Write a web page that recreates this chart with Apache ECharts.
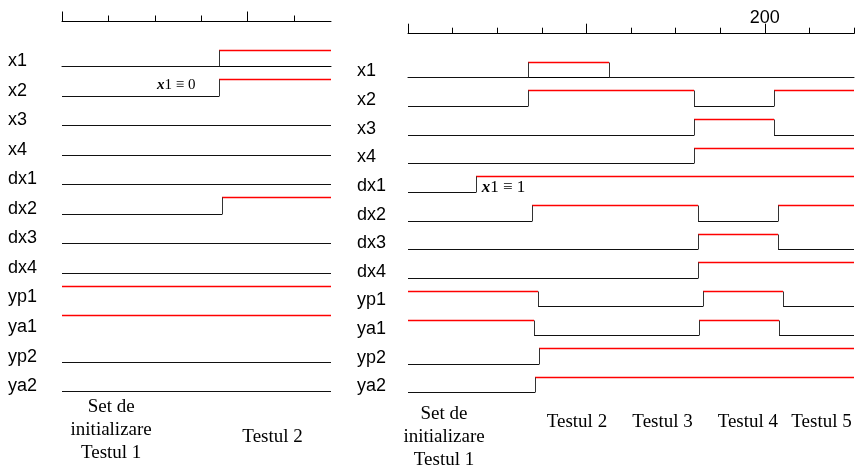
<!DOCTYPE html>
<html><head><meta charset="utf-8">
<script src="https://cdn.jsdelivr.net/npm/echarts@6/dist/echarts.min.js"></script>
<style>html,body{margin:0;padding:0;background:#fff}#c{width:858px;height:468px}</style>
</head><body><div id="c"></div>
<script>
// ---- data ----
const signalNames = ['x1','x2','x3','x4','dx1','dx2','dx3','dx4','yp1','ya1','yp2','ya2'];
const leftInit  = [0,0,0,0,0,0,0,0,1,1,0,0];
const leftEdges = [[84.5],[84.5],[],[],[],[86.5],[],[],[],[],[],[]];
const leftEnd = 145;
const leftMinorTicks = [0,25,50,75,100,125];
const leftMajorTicks = [0,100];
const leftTickLabels = [];
const leftNoteText = '{i|x}1 ≡ 0';
const leftNoteAt = [51.2, 0.64];
const leftTestLabels = ['Set de\ninitializare\nTestul 1', 'Testul 2'];
const leftTestX = [26.5, 113.5];

const rightInit  = [0,0,0,0,0,0,0,0,1,1,0,0];
const rightEdges = [
  [67.4,112.8],
  [67.4,160.2,205.2],
  [160.2,205.2],
  [160.2],
  [38.1],
  [69.6,162.5,207.3],
  [162.5,207.3],
  [162.5],
  [72.8,165.4,210.3],
  [70.4,163.2,208.0],
  [73.4],
  [71.0]
];
const rightEnd = 250;
const rightMinorTicks = [0,25,50,75,100,125,150,175,200,225,250];
const rightMajorTicks = [0,100,200];
const rightTickLabels = [200];
const rightNoteText = '{i|x}1 ≡ 1';
const rightNoteAt = [41.3, 3.84];
const rightTestLabels = ['Set de\ninitializare\nTestul 1', 'Testul 2', 'Testul 3', 'Testul 4', 'Testul 5'];
const rightTestX = [20.2, 94.7, 142.7, 190.5, 231.8];

// ---- build ----
const SANS = '"Liberation Sans", Arial, Helvetica, sans-serif';
const SERIF = '"Liberation Serif", "Times New Roman", serif';

function segments(init, edges, end) {
  const out = [];
  init.forEach((lv0, row) => {
    let lv = lv0, prev = lv0, x = 0;
    edges[row].forEach(e => { out.push([x, e, row, lv, prev]); prev = lv; lv = 1 - lv; x = e; });
    out.push([x, end, row, lv, prev]);
  });
  return out;
}
const crisp = v => Math.round(v) + 0.5;

function signalSeries(data, xi, yi, high) {
  return {
    type: 'custom', xAxisIndex: xi, yAxisIndex: yi, silent: true, clip: false,
    data: data,
    renderItem: function (params, api) {
      const x0 = api.value(0), x1 = api.value(1), row = api.value(2), lv = api.value(3), pv = api.value(4);
      const a = api.coord([x0, row - high * lv]);
      const b = api.coord([x1, row - high * lv]);
      const y = crisp(a[1]);
      const kids = [{
        type: 'line',
        shape: { x1: Math.round(a[0]), y1: y, x2: Math.round(b[0]), y2: y },
        style: { stroke: lv ? '#ff0000' : '#111', lineWidth: lv ? 1.3 : 1 }
      }];
      if (pv !== lv) {
        const p = api.coord([x0, row - high * pv]);
        kids.push({
          type: 'line',
          shape: { x1: crisp(a[0]), y1: crisp(p[1]), x2: crisp(a[0]), y2: y },
          style: { stroke: '#333', lineWidth: 1 }
        });
      }
      return { type: 'group', children: kids };
    }
  };
}

function noteSeries(text, at, xi, yi, size) {
  return {
    type: 'custom', xAxisIndex: xi, yAxisIndex: yi, silent: true, clip: false,
    data: [at],
    renderItem: function (params, api) {
      const p = api.coord([api.value(0), api.value(1)]);
      return {
        type: 'text', x: p[0], y: p[1],
        style: {
          text: text, fill: '#000', fontFamily: SERIF, fontSize: size,
          align: 'left', verticalAlign: 'middle',
          rich: { i: { fontFamily: SERIF, fontSize: size, fontStyle: 'italic', fontWeight: 'bold', fill: '#000' } }
        }
      };
    }
  };
}

function testSeries(labels, xs, xi, yi, multiDy, singleDy) {
  return {
    type: 'custom', xAxisIndex: xi, yAxisIndex: yi, silent: true, clip: false,
    data: xs.map((x, i) => [x, i]),
    renderItem: function (params, api) {
      const idx = api.value(1);
      const txt = labels[idx];
      const p = api.coord([api.value(0), 11]);
      const multi = txt.indexOf('\n') >= 0;
      return {
        type: 'text', x: p[0], y: p[1] + (multi ? multiDy : singleDy),
        style: { text: txt, fill: '#000', fontFamily: SERIF, fontSize: 19, lineHeight: 23,
                 align: 'center', verticalAlign: 'middle' }
      };
    }
  };
}

function xAxes(g, end, minor, major, labels) {
  const base = { type: 'value', gridIndex: g, min: 0, max: end, position: 'top', splitLine: { show: false } };
  return [
    Object.assign({}, base, {
      axisLine: { show: true, lineStyle: { color: '#000', width: 1 } },
      axisTick: { show: false }, axisLabel: { show: false }
    }),
    Object.assign({}, base, {
      offset: 15,
      axisLine: { show: true, lineStyle: { color: '#000', width: 1 } },
      axisTick: { show: true, customValues: minor, length: 6, lineStyle: { color: '#000' } },
      axisLabel: { show: false }
    }),
    Object.assign({}, base, {
      offset: 15,
      axisLine: { show: false },
      axisTick: { show: true, customValues: major, length: 10, lineStyle: { color: '#000' } },
      axisLabel: { show: labels.length > 0, customValues: labels, margin: 7,
                   fontFamily: SANS, fontSize: 18, color: '#000' }
    })
  ];
}

function yAxis(g, margin, lh) {
  return {
    type: 'value', gridIndex: g, inverse: true, min: -1, max: 11, interval: 1,
    axisLine: { show: false }, axisTick: { show: false }, splitLine: { show: false },
    axisLabel: {
      showMinLabel: true, showMaxLabel: true,
      formatter: v => (v >= 0 && v < signalNames.length) ? signalNames[v] : '',
      align: 'left', verticalAlign: 'bottom', lineHeight: lh, margin: margin,
      fontFamily: SANS, fontSize: 18, color: '#000'
    }
  };
}

const chart = echarts.init(document.getElementById('c'), null, { renderer: 'canvas' });
chart.setOption({
  animation: false,
  backgroundColor: '#fff',
  grid: [
    { left: 62, top: 36.5, width: 269, height: 354.6 },
    { left: 408, top: 48.7, width: 446, height: 343.7 }
  ],
  xAxis: [].concat(
    xAxes(0, leftEnd, leftMinorTicks, leftMajorTicks, leftTickLabels),
    xAxes(1, rightEnd, rightMinorTicks, rightMajorTicks, rightTickLabels)
  ),
  yAxis: [yAxis(0, 54, 10), yAxis(1, 51, 12)],
  series: [
    signalSeries(segments(leftInit, leftEdges, leftEnd), 0, 0, 0.56),
    signalSeries(segments(rightInit, rightEdges, rightEnd), 3, 1, 0.545),
    noteSeries(leftNoteText, leftNoteAt, 0, 0, 15),
    noteSeries(rightNoteText, rightNoteAt, 3, 1, 17),
    testSeries(leftTestLabels, leftTestX, 0, 0, 39.2, 45.7),
    testSeries(rightTestLabels, rightTestX, 3, 1, 45.1, 29.3)
  ]
});
</script></body></html>
